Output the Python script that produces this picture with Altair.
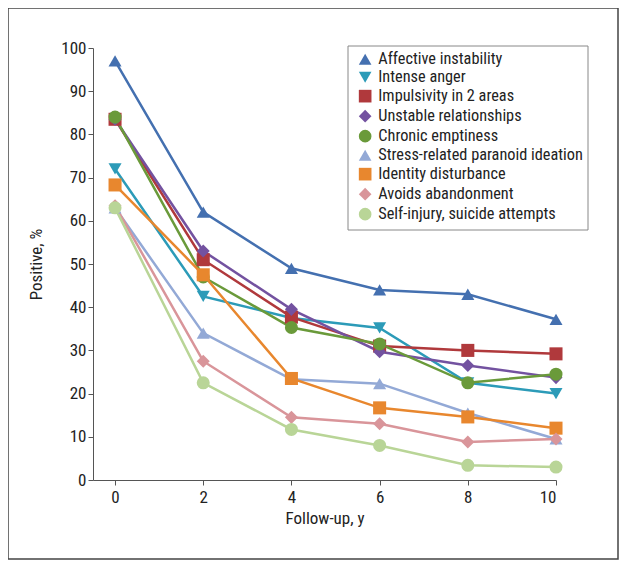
import altair as alt
import pandas as pd

years = [0, 2, 4, 6, 8, 10]
series = [
    "Affective instability",
    "Intense anger",
    "Impulsivity in 2 areas",
    "Unstable relationships",
    "Chronic emptiness",
    "Stress-related paranoid ideation",
    "Identity disturbance",
    "Avoids abandonment",
    "Self-injury, suicide attempts",
]
affective = [97, 62, 49, 44, 43, 37.2]
anger = [72, 42.5, 37.5, 35.2, 22.5, 20]
impulsivity = [83.5, 51, 37.7, 31, 30, 29.2]
unstable = [83.5, 53, 39.5, 29.7, 26.5, 23.7]
emptiness = [84, 47, 35.3, 31.5, 22.5, 24.5]
paranoid = [63, 34, 23.3, 22.3, 15.5, 9.5]
identity = [68.3, 47.5, 23.5, 16.7, 14.6, 12]
abandon = [63.5, 27.5, 14.5, 13, 8.8, 9.5]
selfinjury = [63, 22.5, 11.7, 8, 3.4, 3]

values = [affective, anger, impulsivity, unstable, emptiness,
          paranoid, identity, abandon, selfinjury]
colors = ["#4470B0", "#2C9BB8", "#B0393C", "#7352A0", "#6A9A3A",
          "#93A9D6", "#E8872E", "#D9959A", "#B9D597"]
shapes = ["triangle-up", "triangle-down", "square", "diamond", "circle",
          "triangle-up", "square", "diamond", "circle"]

rows = []
for s, c, vals in zip(series, colors, values):
    for yr, v in zip(years, vals):
        rows.append({"series": s, "lc": c, "year": yr, "value": v})
df = pd.DataFrame(rows)

FONT = "Liberation Sans Narrow, Roboto Condensed, Arial Narrow, Liberation Sans, sans-serif"
AX = "#555555"

xenc = alt.X("year:Q", scale=alt.Scale(domain=[-0.5, 10], nice=False, zero=False),
             axis=alt.Axis(values=years, title="Follow-up, y", grid=False, domainColor=AX,
                           tickColor=AX, tickSize=5, labelFontSize=17, titleFontSize=17,
                           titleFontWeight="normal", labelColor="#222", titleColor="#222",
                           labelPadding=4, titlePadding=5, labelFont=FONT, titleFont=FONT))
yenc = alt.Y("value:Q", scale=alt.Scale(domain=[0, 100], nice=False),
             axis=alt.Axis(values=list(range(0, 101, 10)), title="Positive, %", grid=False,
                           domainColor=AX, tickColor=AX, tickSize=5, labelFontSize=17,
                           titleFontSize=17, titleFontWeight="normal", labelColor="#222",
                           titleColor="#222", labelPadding=2, titlePadding=15,
                           labelFont=FONT, titleFont=FONT))

cscale = alt.Scale(domain=series, range=colors)
sscale = alt.Scale(domain=series, range=shapes)

legend = alt.Legend(title=None, orient="none", legendX=264, legendY=3,
                    padding=0, labelFontSize=16.3,
                    labelFont=FONT, labelColor="#222", symbolSize=160,
                    rowPadding=0, labelOffset=5, labelLimit=400,
                    symbolOpacity=1)

lines = alt.Chart(df).mark_line(strokeWidth=2.5).encode(
    x=xenc, y=yenc,
    color=alt.Color("lc:N", scale=None),
    detail="series:N",
)

points = alt.Chart(df).mark_point(filled=True, opacity=1, size=170).encode(
    x=xenc, y=yenc,
    color=alt.Color("series:N", scale=cscale, legend=legend),
    shape=alt.Shape("series:N", scale=sscale, legend=legend),
)

one = pd.DataFrame({"a": [0]})
frame = alt.Chart(one).mark_rect(fill=None, stroke="#444", strokeWidth=1.5, clip=False).encode(
    x=alt.value(-85), x2=alt.value(525), y=alt.value(-40), y2=alt.value(511)
)
legend_box = alt.Chart(one).mark_rect(fill="white", stroke="#888", strokeWidth=1, clip=False).encode(
    x=alt.value(255), x2=alt.value(495), y=alt.value(-2), y2=alt.value(182)
)

chart = alt.layer(frame, legend_box, lines, points).properties(
    width=463, height=432,
    autosize=alt.AutoSizeParams(type="none"),
    padding={"left": 85, "top": 40, "right": 64, "bottom": 80},
).configure_view(stroke=None)

chart.save("out.html", embed_options={"renderer": "svg", "actions": False})
